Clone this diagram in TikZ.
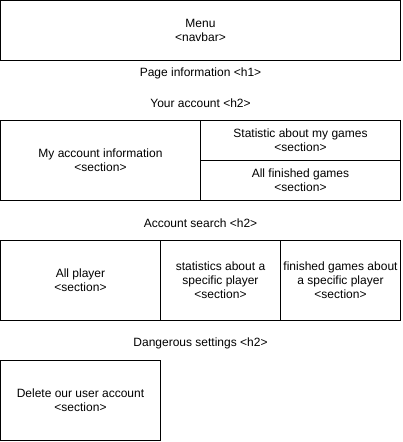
\documentclass[tikz,border=0pt]{standalone}
\usepackage{fontspec}
\setmainfont{Liberation Sans}
\begin{document}
\begin{tikzpicture}[x=1pt,y=-1pt,
  box/.style={draw=black,line width=1pt,fill=white,inner sep=0pt,align=center,
    font=\fontsize{12}{14}\selectfont},
  lbl/.style={inner sep=0pt,align=center,font=\fontsize{12}{14}\selectfont}]
\useasboundingbox (0,0) rectangle (402,442);
\node[box,minimum width=400pt,minimum height=60pt] (menu) at (200.5,30.5) {Menu\\<navbar>};
\node[lbl] (h1) at (200.5,73) {Page information <h1>};
\node[lbl] (h2a) at (200.5,103) {Your account <h2>};
\node[box,minimum width=200pt,minimum height=80pt] (acc) at (100.5,160.5) {My account information\\<section>};
\node[box,minimum width=200pt,minimum height=40pt] (stat) at (300.5,140.5) {Statistic about my games\\<section>};
\node[box,minimum width=200pt,minimum height=40pt] (fin) at (300.5,180.5) {All finished games\\<section>};
\node[lbl] (h2b) at (200.5,223) {Account search <h2>};
\node[box,minimum width=160pt,minimum height=80pt] (allp) at (80.5,280.5) {All player\\<section>};
\node[box,minimum width=120pt,minimum height=80pt] (sp) at (220.5,280.5) {statistics about a\\specific player\\<section>};
\node[box,minimum width=120pt,minimum height=80pt] (fp) at (340.5,280.5) {finished games about\\a specific player\\<section>};
\node[lbl] (h2c) at (200.5,343) {Dangerous settings <h2>};
\node[box,minimum width=160pt,minimum height=80pt] (del) at (80.5,400.5) {Delete our user account\\<section>};
\end{tikzpicture}
\end{document}
